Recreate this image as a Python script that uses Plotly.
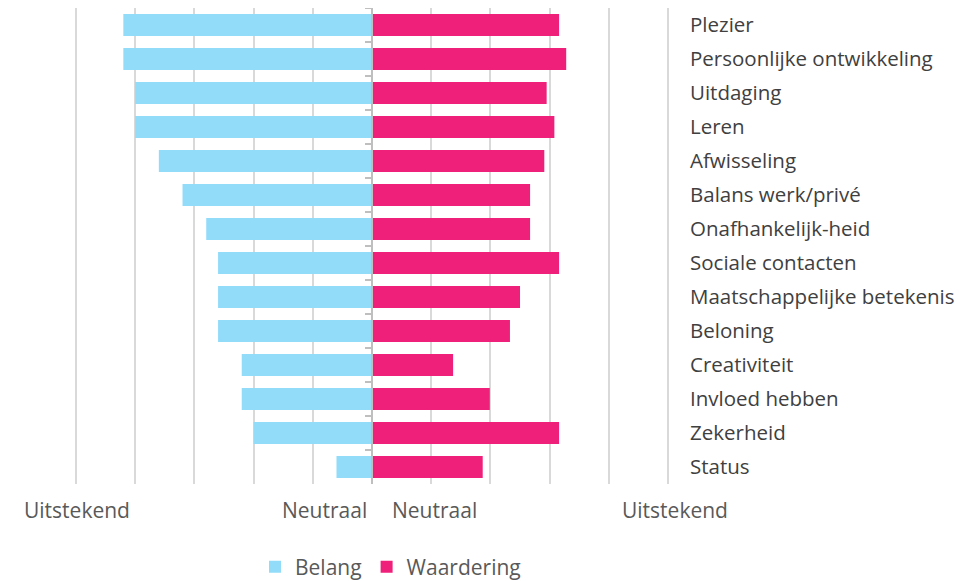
import plotly.graph_objects as go

categories = ["Plezier", "Persoonlijke ontwikkeling", "Uitdaging", "Leren", "Afwisseling",
              "Balans werk/privé", "Onafhankelijk-heid", "Sociale contacten",
              "Maatschappelijke betekenis", "Beloning", "Creativiteit", "Invloed hebben",
              "Zekerheid", "Status"]
belang = [4.2, 4.2, 4.0, 4.0, 3.6, 3.2, 2.8, 2.6, 2.6, 2.6, 2.2, 2.2, 2.0, 0.6]
waardering = [3.16, 3.28, 2.95, 3.08, 2.91, 2.67, 2.67, 3.16, 2.50, 2.33, 1.37, 1.99, 3.16, 1.87]
scale_labels = ["Uitstekend", "Neutraal", "Neutraal", "Uitstekend"]
scale_xpix = [77, 324, 434, 675]

FONT = "Open Sans"
TXT = "#595959"
OFF = 8  # default page body margin
W, H = 964 - OFF, 581 - OFF
L, T, B = 65, 0, 97
PW = 598
R_ = W - L - PW
PH = H - T - B

fig = go.Figure()
fig.add_trace(go.Bar(
    name="Belang", y=categories, x=[-v for v in belang], orientation="h",
    marker=dict(color="#92DCFA", line=dict(width=0)), yaxis="y",
))
fig.add_trace(go.Bar(
    name="Waardering", y=categories, x=waardering, orientation="h",
    marker=dict(color="#EE207A", line=dict(width=0)), yaxis="y2",
))

for lab, px in zip(scale_labels, scale_xpix):
    fig.add_annotation(x=(px - OFF - L) / PW, y=(PH - (510 - OFF - T)) / PH,
                       xref="paper", yref="paper",
                       text=lab, showarrow=False, xanchor="center", yanchor="middle",
                       font=dict(family=FONT, size=21, color=TXT))

fig.update_layout(
    width=W, height=H,
    margin=dict(l=L, r=R_, t=T, b=B, autoexpand=False),
    paper_bgcolor="white", plot_bgcolor="white",
    barmode="overlay", bargap=0.35,
    font=dict(family=FONT, color=TXT),
    xaxis=dict(range=[-5.05, 5.05], tickmode="linear", tick0=-5, dtick=1,
               showticklabels=False, showgrid=True, gridcolor="#D9D9D9", gridwidth=1.5,
               zeroline=False, showline=False, fixedrange=True, automargin=False),
    yaxis=dict(type="category", categoryorder="array", categoryarray=categories,
               autorange="reversed", side="right", showgrid=False, ticks="",
               ticklabelstandoff=18, showline=False, zeroline=False, automargin=False,
               tickfont=dict(family=FONT, size=20.5, color="#404040")),
    yaxis2=dict(type="category", categoryorder="array", categoryarray=categories,
                autorange="reversed", overlaying="y", anchor="free", position=0.5,
                side="left", showticklabels=False, showgrid=False, automargin=False,
                ticks="outside", tickson="boundaries", ticklen=6, tickwidth=1.5,
                tickcolor="#BFBFBF", showline=True, linecolor="#BFBFBF", linewidth=1.5,
                zeroline=False),
    legend=dict(orientation="h", x=(255 - OFF - L) / PW, xanchor="left",
                y=(PH - (567 - OFF - T)) / PH, yanchor="middle",
                font=dict(family=FONT, size=21, color=TXT), traceorder="normal",
                bgcolor="rgba(0,0,0,0)"),
    showlegend=True,
)

fig.write_html("out.html")
